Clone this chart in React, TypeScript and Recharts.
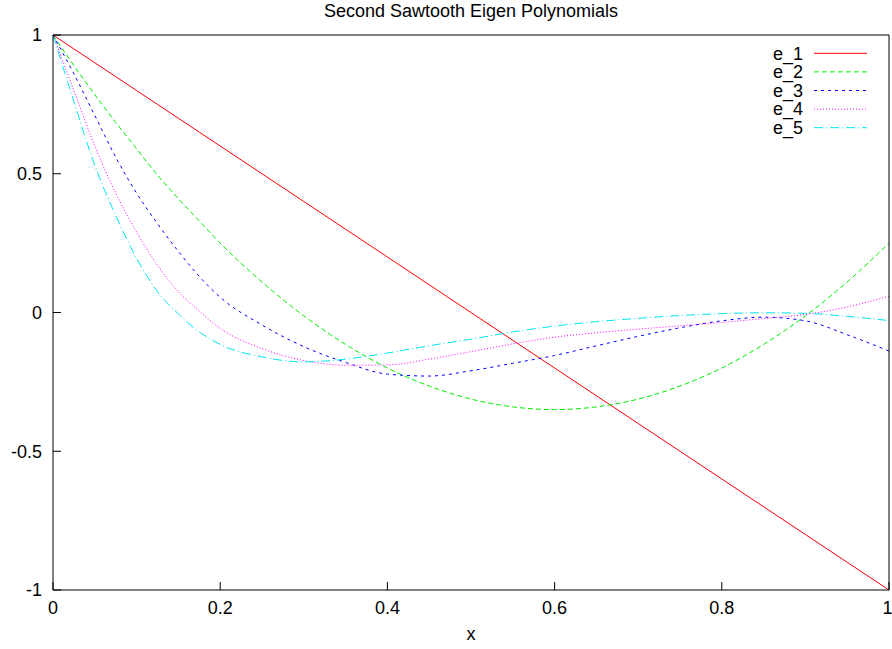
import { Legend, Line, LineChart, XAxis, YAxis } from "recharts";

const xs = [0, 0.025, 0.05, 0.075, 0.1, 0.125, 0.15, 0.175, 0.2, 0.25, 0.3, 0.35, 0.4, 0.45, 0.5, 0.55, 0.6, 0.65, 0.7, 0.75, 0.8, 0.85, 0.9, 0.95, 1];

const e1 = [1, 0.95, 0.9, 0.85, 0.8, 0.75, 0.7, 0.65, 0.6, 0.5, 0.4, 0.3, 0.2, 0.1, 0, -0.1, -0.2, -0.3, -0.4, -0.5, -0.6, -0.7, -0.8, -0.9, -1];
const e2 = [1, 0.89, 0.785, 0.685, 0.59, 0.495, 0.41, 0.33, 0.25, 0.11, -0.012, -0.115, -0.2, -0.265, -0.312, -0.34, -0.35, -0.34, -0.312, -0.265, -0.2, -0.115, -0.012, 0.11, 0.25];
const e3 = [1, 0.86, 0.71, 0.56, 0.43, 0.32, 0.22, 0.13, 0.055, -0.045, -0.123, -0.18, -0.222, -0.229, -0.21, -0.183, -0.155, -0.12, -0.086, -0.055, -0.03, -0.017, -0.03, -0.08, -0.139];
const e4 = [1, 0.8, 0.6, 0.43, 0.29, 0.17, 0.075, 0.005, -0.057, -0.13, -0.173, -0.19, -0.189, -0.168, -0.141, -0.113, -0.089, -0.073, -0.06, -0.048, -0.036, -0.022, -0.007, 0.02, 0.059];
const e5 = [1, 0.76, 0.53, 0.35, 0.195, 0.075, -0.005, -0.07, -0.115, -0.16, -0.178, -0.168, -0.146, -0.12, -0.096, -0.07, -0.049, -0.033, -0.021, -0.011, -0.004, -0.001, -0.003, -0.014, -0.029];

const xTicks = [0, 0.2, 0.4, 0.6, 0.8, 1];
const yTicks = [-1, -0.5, 0, 0.5, 1];

const SERIES = [
  { name: "e_1", values: e1, color: "#ff0000", dash: undefined as string | undefined },
  { name: "e_2", values: e2, color: "#00ee00", dash: "5 3" },
  { name: "e_3", values: e3, color: "#0000ff", dash: "3 4" },
  { name: "e_4", values: e4, color: "#ff00ff", dash: "1 2" },
  { name: "e_5", values: e5, color: "#00e5ee", dash: "9 3 1 3" },
];

const data = xs.map((x, i) => {
  const row: Record<string, number> = { x };
  SERIES.forEach((s) => (row[s.name] = s.values[i]));
  return row;
});

const FONT = "'Liberation Sans', Arial, Helvetica, sans-serif";
const TICK = { fill: "#000", fontSize: 18, fontFamily: FONT };
const AXIS = { stroke: "#000", strokeWidth: 1 };

function KeyBox() {
  return (
    <svg width={120} height={100}>
      {SERIES.map((s, i) => {
        const y = 11.3 + i * 18.6;
        return (
          <g key={s.name}>
            <text x={43} y={y} dy="0.35em" textAnchor="end" fontSize={18} fontFamily={FONT} fill="#000">
              {s.name}
            </text>
            <line x1={54} x2={107} y1={y} y2={y} stroke={s.color} strokeWidth={1} strokeDasharray={s.dash} />
          </g>
        );
      })}
    </svg>
  );
}

export default function App() {
  return (
    <div style={{ position: "absolute", left: 0, top: 0, width: 892, height: 649, background: "#fff" }}>
      <div
        style={{
          position: "absolute",
          left: 53,
          width: 836,
          top: 0,
          textAlign: "center",
          fontFamily: FONT,
          fontSize: 18,
          lineHeight: "22px",
          color: "#000",
        }}
      >
        Second Sawtooth Eigen Polynomials
      </div>
      <LineChart width={892} height={649} data={data} margin={{ top: 34, right: 2, bottom: 9, left: 8 }}>
        <XAxis
          dataKey="x"
          type="number"
          domain={[0, 1]}
          ticks={xTicks}
          height={50}
          tickSize={-8}
          tickMargin={19}
          tick={TICK}
          axisLine={AXIS}
          tickLine={AXIS}
          label={{ value: "x", position: "insideBottom", offset: 0, fill: "#000", fontSize: 18, fontFamily: FONT }}
        />
        <XAxis
          xAxisId="top"
          orientation="top"
          type="number"
          domain={[0, 1]}
          ticks={xTicks}
          height={1}
          tickSize={-8}
          tick={false}
          axisLine={AXIS}
          tickLine={AXIS}
        />
        <YAxis
          type="number"
          domain={[-1, 1]}
          ticks={yTicks}
          width={45}
          tickSize={-8}
          tickMargin={19}
          tick={TICK}
          axisLine={AXIS}
          tickLine={AXIS}
        />
        <YAxis
          yAxisId="right"
          orientation="right"
          type="number"
          domain={[-1, 1]}
          ticks={yTicks}
          width={1}
          tickSize={-8}
          tick={false}
          axisLine={AXIS}
          tickLine={AXIS}
        />
        <Legend
          layout="vertical"
          align="center"
          verticalAlign="middle"
          wrapperStyle={{ left: 760, top: 42, width: 120, height: 100 }}
          content={() => <KeyBox />}
        />
        {SERIES.map((s) => (
          <Line
            key={s.name}
            dataKey={s.name}
            type="monotone"
            stroke={s.color}
            strokeWidth={1}
            strokeDasharray={s.dash}
            dot={false}
            activeDot={false}
            isAnimationActive={false}
          />
        ))}
      </LineChart>
    </div>
  );
}
